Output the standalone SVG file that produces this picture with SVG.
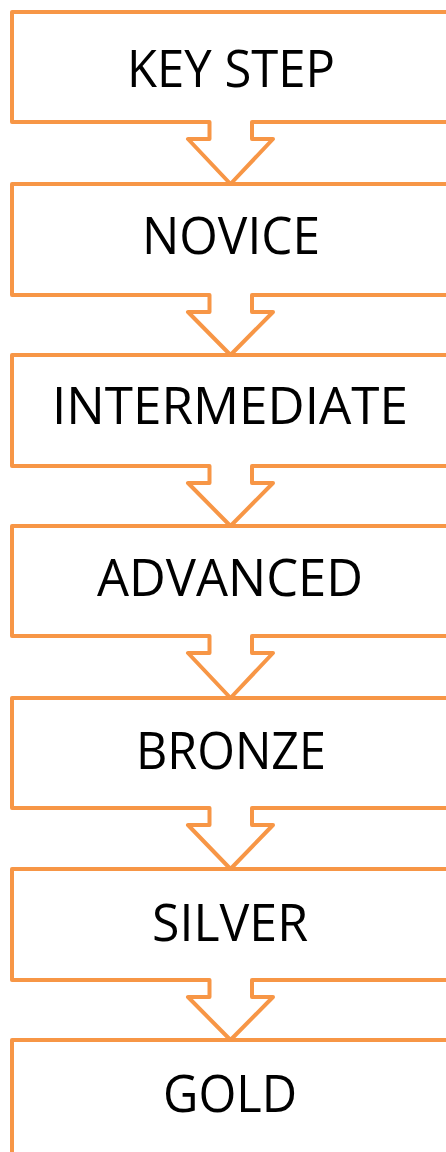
<svg xmlns="http://www.w3.org/2000/svg" width="446" height="1152" viewBox="0 0 446 1152">
<style>
.s{fill:#fff;stroke:#F79646;stroke-width:4;stroke-linejoin:round}
.t{font-family:"Open Sans","Liberation Sans",sans-serif;font-size:52px;fill:#000;text-anchor:middle}
</style>
<rect width="446" height="1152" fill="#fff"/>
<g id="n7"><path class="s" d="M12,1040H460V1200H12Z"/><text class="t" x="230" y="1112" textLength="134" lengthAdjust="spacingAndGlyphs">GOLD</text></g>
<g id="n6"><path class="s" d="M12,869H460V980H252V997H273L230.5,1040L188,997H209.5V980H12Z"/><text class="t" x="230" y="941" textLength="156" lengthAdjust="spacingAndGlyphs">SILVER</text></g>
<g id="n5"><path class="s" d="M12,698H460V808H252V825H273L230.5,869L188,825H209.5V808H12Z"/><text class="t" x="231" y="769" textLength="190" lengthAdjust="spacingAndGlyphs">BRONZE</text></g>
<g id="n4"><path class="s" d="M12,526H460V636H252V653H273L230.5,698L188,653H209.5V636H12Z"/><text class="t" x="230" y="596" textLength="266" lengthAdjust="spacingAndGlyphs">ADVANCED</text></g>
<g id="n3"><path class="s" d="M12,355H460V466H252V483H273L230.5,526L188,483H209.5V466H12Z"/><text class="t" x="230" y="424" textLength="356" lengthAdjust="spacingAndGlyphs">INTERMEDIATE</text></g>
<g id="n2"><path class="s" d="M12,184H460V295H252V312H273L230.5,355L188,312H209.5V295H12Z"/><text class="t" x="231" y="254" textLength="178" lengthAdjust="spacingAndGlyphs">NOVICE</text></g>
<g id="n1"><path class="s" d="M12,12H460V122H252V139H273L230.5,184L188,139H209.5V122H12Z"/><text class="t" x="231" y="87" textLength="208" lengthAdjust="spacingAndGlyphs">KEY STEP</text></g>
</svg>
